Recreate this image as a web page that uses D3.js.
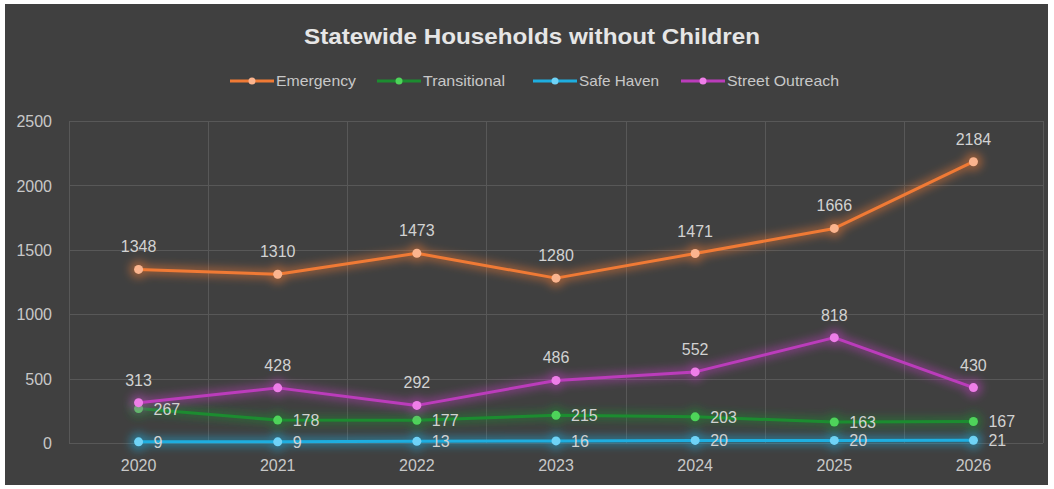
<!DOCTYPE html>
<html><head><meta charset="utf-8">
<script src="https://cdn.jsdelivr.net/npm/d3@7"></script>
<style>
html,body{margin:0;padding:0;background:#fff;}
svg{display:block;}
</style></head>
<body>
<svg id="chart" width="1054" height="489"></svg>
<script>
const years = ["2020","2021","2022","2023","2024","2025","2026"];
const emergency = [1348,1310,1473,1280,1471,1666,2184];
const transitional = [267,178,177,215,203,163,167];
const safeHaven = [9,9,13,16,20,20,21];
const streetOutreach = [313,428,292,486,552,818,430];
const yTicks = [0,500,1000,1500,2000,2500];
const seriesNames = ["Emergency","Transitional","Safe Haven","Street Outreach"];
const title = "Statewide Households without Children";

const series = [
  {name: seriesNames[0], values: emergency, line:"#f07a35", marker:"#fbb48e", labelPos:"above"},
  {name: seriesNames[1], values: transitional, line:"#1c8c30", marker:"#4ed45a", labelPos:"right"},
  {name: seriesNames[2], values: safeHaven, line:"#1eaee0", marker:"#6fd3f7", labelPos:"right"},
  {name: seriesNames[3], values: streetOutreach, line:"#bb3cbb", marker:"#ee7ee8", labelPos:"above"}
];

const svg = d3.select("#chart");
svg.append("rect").attr("x",5).attr("y",4).attr("width",1043).attr("height",481).attr("fill","#404040");

const defs = svg.append("defs");
series.forEach((s,i)=>{
  const f = defs.append("filter").attr("id","glow"+i).attr("x","-20%").attr("y","-50%").attr("width","140%").attr("height","200%");
  f.append("feGaussianBlur").attr("in","SourceGraphic").attr("stdDeviation",4).attr("result","b");
  f.append("feComponentTransfer").attr("in","b").attr("result","b2")
    .append("feFuncA").attr("type","linear").attr("slope",0.5);
});

const pL = 69, pR = 1043, pT = 121, pB = 443;
const x = d3.scaleBand().domain(years).range([pL,pR]);
const y = d3.scaleLinear().domain([0,2500]).range([pB,pT]);
const cx = d => x(d) + x.bandwidth()/2;

// gridlines
const grid = svg.append("g");
grid.selectAll("line.h").data(yTicks).join("line")
  .attr("x1",pL).attr("x2",pR).attr("y1",d=>Math.round(y(d))+0.5).attr("y2",d=>Math.round(y(d))+0.5)
  .attr("stroke","#585858").attr("stroke-width",1);
const vLines = years.map(d=>x(d)).concat([pR]);
grid.selectAll("line.v").data(vLines).join("line")
  .attr("x1",d=>Math.round(d)+0.5).attr("x2",d=>Math.round(d)+0.5).attr("y1",pT).attr("y2",pB)
  .attr("stroke","#585858").attr("stroke-width",1);

// axes
const fontAx = "'Liberation Sans', Arial, sans-serif";
const yAxis = svg.append("g").attr("transform",`translate(52,0)`)
  .call(d3.axisLeft(y).tickValues(yTicks).tickFormat(d3.format("d")).tickSize(0).tickPadding(0));
yAxis.select(".domain").remove();
yAxis.selectAll("text").attr("fill","#c8c8c8").attr("dy","0.36em").style("font-family",fontAx).style("font-size","16px");

const xAxis = svg.append("g").attr("transform",`translate(0,${pB+17})`)
  .call(d3.axisBottom(x).tickSize(0).tickPadding(0));
xAxis.select(".domain").remove();
xAxis.selectAll("text").attr("fill","#c8c8c8").style("font-family",fontAx).style("font-size","16px");

// lines
const lineGen = d3.line().x((d,i)=>cx(years[i])).y(d=>y(d));
const drawOrder = [2,1,3,0];
drawOrder.forEach(i=>{
  const s = series[i];
  const g = svg.append("g");
  const glow = g.append("g").attr("filter",`url(#glow${i})`);
  glow.append("path").datum(s.values).attr("d",lineGen).attr("fill","none").attr("stroke",s.line).attr("stroke-width",9).attr("stroke-linejoin","round");
  glow.selectAll("circle").data(s.values).join("circle").attr("cx",(d,j)=>cx(years[j])).attr("cy",d=>y(d)).attr("r",9).attr("fill",s.line);
  g.append("path").datum(s.values).attr("d",lineGen).attr("fill","none").attr("stroke",s.line).attr("stroke-width",3).attr("stroke-linejoin","round");
  g.selectAll("circle.m").data(s.values).join("circle").attr("class","m")
    .attr("cx",(d,j)=>cx(years[j])).attr("cy",d=>y(d)).attr("r",4.5).attr("fill",s.marker);
});

// data labels
series.forEach(s=>{
  svg.append("g").selectAll("text").data(s.values).join("text")
    .attr("x",(d,j)=> s.labelPos==="above" ? cx(years[j]) : cx(years[j])+15)
    .attr("y",d=> s.labelPos==="above" ? y(d)-17 : y(d)+6)
    .attr("text-anchor", s.labelPos==="above" ? "middle" : "start")
    .attr("fill","#d2d2d2").style("font-family",fontAx).style("font-size","16px")
    .text(d=>d);
});

// title
svg.append("text").attr("x",532).attr("y",44).attr("text-anchor","middle")
  .attr("fill","#e6e6e6").style("font-family",fontAx)
  .style("font-weight","bold").style("font-size","22px")
  .attr("textLength",456).attr("lengthAdjust","spacingAndGlyphs").text(title);

// legend
const legendX = [230, 377, 533, 681];
const legendW = [80, 82, 80, 112];
const lg = svg.append("g");
series.forEach((s,i)=>{
  const g = lg.append("g").attr("transform",`translate(${legendX[i]},81)`);
  g.append("line").attr("x1",0).attr("x2",44).attr("y1",0).attr("y2",0).attr("stroke",s.line).attr("stroke-width",3);
  g.append("circle").attr("cx",22).attr("cy",0).attr("r",3.5).attr("fill",s.marker);
  g.append("text").attr("x",46).attr("y",5).attr("fill","#c8c8c8")
    .style("font-family",fontAx).style("font-size","15px")
    .attr("textLength",legendW[i]).attr("lengthAdjust","spacingAndGlyphs").text(s.name);
});
</script>
</body></html>
